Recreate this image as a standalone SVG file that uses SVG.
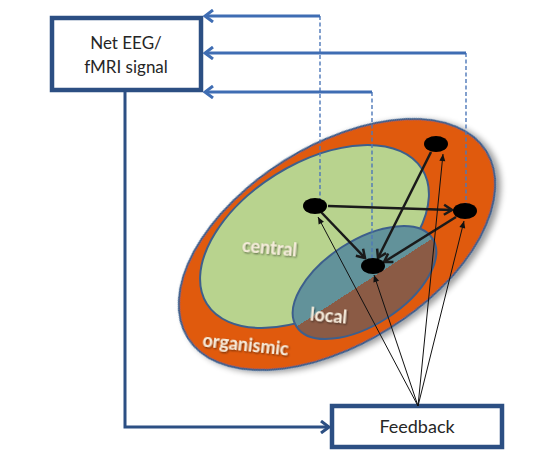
<svg xmlns="http://www.w3.org/2000/svg" width="555" height="466" viewBox="0 0 555 466">
<defs>
<style>
.box{fill:#ffffff;stroke:#2c4f83;stroke-width:4.5}
.lbl{font-family:Lato,"Open Sans","Liberation Sans",sans-serif;fill:#262626;text-anchor:middle}
.reg{font-family:Lato,"Open Sans","Liberation Sans",sans-serif;font-size:18px;font-weight:bold;fill:#f6ecdc;text-anchor:middle}
.sig{fill:none;stroke:#3f6db3;stroke-width:3}
.dash{fill:none;stroke:#4d78b8;stroke-width:1.4;stroke-dasharray:4 2.5}
.fb{fill:none;stroke:#2c4f83;stroke-width:3}
.thick{fill:none;stroke:#1a1a1a;stroke-width:2.5}
.thin{fill:none;stroke:#111111;stroke-width:1}
.node{fill:#000000}
.edge{stroke:#3d5f8c;stroke-width:2}
</style>
<marker id="chevB" viewBox="-10 -7 12 14" markerWidth="12" markerHeight="14" refX="0" refY="0" orient="auto" markerUnits="userSpaceOnUse">
<path d="M-8,-6 L0,0 L-8,6" fill="none" stroke="#3f6db3" stroke-width="3"/>
</marker>
<marker id="chevD" viewBox="-10 -7 12 14" markerWidth="12" markerHeight="14" refX="0" refY="0" orient="auto" markerUnits="userSpaceOnUse">
<path d="M-8,-6 L0,0 L-8,6" fill="none" stroke="#2c4f83" stroke-width="3"/>
</marker>
<marker id="chevK" viewBox="-10 -7 12 14" markerWidth="12" markerHeight="14" refX="0" refY="0" orient="auto" markerUnits="userSpaceOnUse">
<path d="M-8,-5 L0,0 L-8,5" fill="none" stroke="#1a1a1a" stroke-width="2.5"/>
</marker>
<marker id="triK" viewBox="-8 -4 9 8" markerWidth="9" markerHeight="8" refX="0" refY="0" orient="auto" markerUnits="userSpaceOnUse">
<path d="M-7,-3 L0,0 L-7,3 Z" fill="#111111"/>
</marker>
<linearGradient id="localFill" x1="0" y1="0" x2="0" y2="1">
<stop offset="0.5" stop-color="#62929a"/>
<stop offset="0.5" stop-color="#8b5b45"/>
</linearGradient>
<filter id="shadow" x="-20%" y="-20%" width="140%" height="140%">
<feGaussianBlur in="SourceAlpha" stdDeviation="3"/>
<feOffset dx="3" dy="4" result="b"/>
<feComponentTransfer><feFuncA type="linear" slope="0.4"/></feComponentTransfer>
<feMerge><feMergeNode/><feMergeNode in="SourceGraphic"/></feMerge>
</filter>
<filter id="tshadow" x="-10%" y="-30%" width="120%" height="160%">
<feGaussianBlur in="SourceAlpha" stdDeviation="0.8"/>
<feOffset dx="1" dy="1.2"/>
<feComponentTransfer><feFuncA type="linear" slope="0.6"/></feComponentTransfer>
<feMerge><feMergeNode/><feMergeNode in="SourceGraphic"/></feMerge>
</filter>
</defs>
<rect width="555" height="466" fill="#ffffff"/>

<g id="organismic">
<ellipse cx="337" cy="244.5" rx="176" ry="99" transform="rotate(-32 337 244.5)" fill="#e05a10" class="edge" filter="url(#shadow)"/>
<text class="reg" filter="url(#tshadow)" transform="translate(245 351) rotate(6)">organismic</text>
</g>
<g id="central">
<ellipse cx="314.5" cy="236.5" rx="127" ry="73" transform="rotate(-32 314.5 236.5)" fill="#b8d38e" class="edge"/>
<text class="reg" filter="url(#tshadow)" transform="translate(269 254) rotate(5)">central</text>
</g>
<g id="local">
<ellipse cx="364.5" cy="282.5" rx="81" ry="42" transform="rotate(-33 364.5 282.5)" fill="url(#localFill)" class="edge"/>
<text class="reg" filter="url(#tshadow)" transform="translate(328 322) rotate(5)">local</text>
</g>

<g id="net-eeg">
<rect class="box" x="52" y="18" width="149" height="72"/>
<text class="lbl" font-size="17" x="126" y="49">Net EEG/</text>
<text class="lbl" font-size="17" x="126" y="73">fMRI signal</text>
</g>
<g id="feedback">
<rect class="box" x="332" y="406" width="170" height="41"/>
<text class="lbl" font-size="18" x="417" y="433">Feedback</text>
</g>

<g id="connectors">
<path class="dash" d="M320,16 L320,200"/>
<path class="dash" d="M466,53 L466,204"/>
<path class="dash" d="M372,92 L372,258"/>
<path class="sig" d="M320,16 L205,16" marker-end="url(#chevB)"/>
<path class="sig" d="M466,53 L205,53" marker-end="url(#chevB)"/>
<path class="sig" d="M372,92 L205,92" marker-end="url(#chevB)"/>
<path class="fb" d="M125,92 L125,427 L329,427" marker-end="url(#chevD)"/>
<path class="thick" d="M328,206 L452,210" marker-end="url(#chevK)"/>
<path class="thick" d="M321,212 L365,258" marker-end="url(#chevK)"/>
<path class="thick" d="M431,152 L378,258" marker-end="url(#chevK)"/>
<path class="thick" d="M456,217 L384,262" marker-end="url(#chevK)"/>
<path class="thin" d="M418,406 L318,217" marker-end="url(#triK)"/>
<path class="thin" d="M418,406 L374,275" marker-end="url(#triK)"/>
<path class="thin" d="M418,406 L443,154" marker-end="url(#triK)"/>
<path class="thin" d="M418,406 L464,221" marker-end="url(#triK)"/>
</g>

<g id="nodes">
<ellipse class="node" cx="315" cy="206" rx="12" ry="8"/>
<ellipse class="node" cx="436" cy="144" rx="12" ry="8"/>
<ellipse class="node" cx="465" cy="211" rx="12" ry="8"/>
<ellipse class="node" cx="373" cy="266" rx="12" ry="8"/>
</g>
</svg>
